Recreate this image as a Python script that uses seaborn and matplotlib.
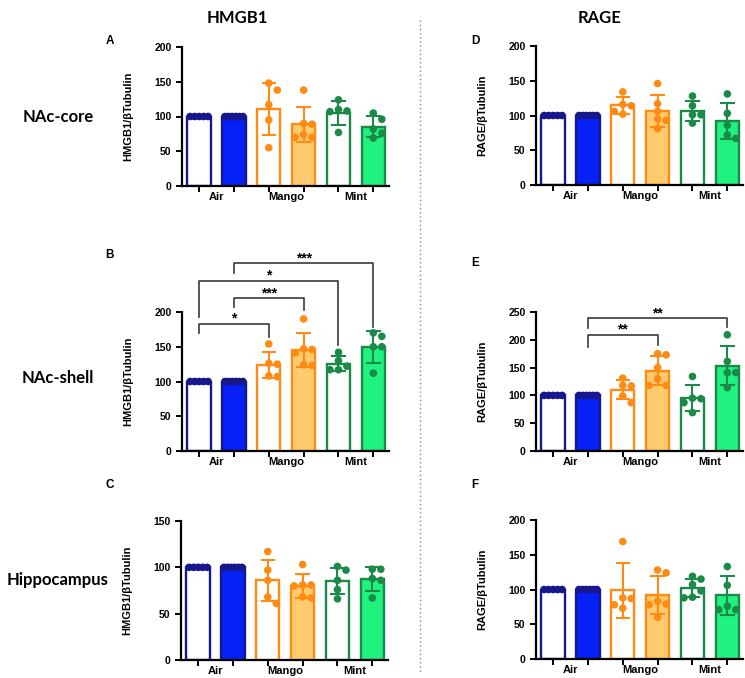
import numpy as np
import pandas as pd
import matplotlib
matplotlib.use("Agg")
import matplotlib.pyplot as plt
import seaborn as sns

# bar order: open/filled pairs for each exposure group
conds = ["Air", "Air (filled)", "Mango", "Mango (filled)", "Mint", "Mint (filled)"]
groups = ["Air", "Mango", "Mint"]
fills = ["white", "#0521f5", "white", "#ffcb6e", "white", "#1ff27f"]
edges = ["#17178c", "#17178c", "#ff8a14", "#ff8a14", "#1b8a48", "#1b8a48"]

# values (% of Air), one list per bar
hmgb1_core = [[100] * 5, [100] * 6,
              [148, 138, 117, 95, 55], [138, 90, 89, 74, 70, 70],
              [124, 110, 108, 107, 77], [105, 96, 82, 76, 69]]
hmgb1_shell = [[100] * 5, [100] * 6,
               [154, 126, 125, 108, 107], [190, 147, 146, 141, 124, 123],
               [142, 130, 122, 117, 117], [170, 165, 150, 150, 112]]
hmgb1_hippo = [[100] * 5, [100] * 6,
               [117, 97, 86, 68, 61], [103, 81, 81, 80, 68, 67],
               [101, 97, 86, 76, 66], [98, 98, 88, 86, 67]]
rage_core = [[100] * 5, [100] * 6,
             [134, 116, 114, 106, 102], [146, 117, 106, 95, 93, 81],
             [128, 114, 101, 101, 89], [131, 103, 86, 72, 67]]
rage_shell = [[100] * 5, [100] * 6,
              [131, 118, 117, 99, 87], [175, 173, 150, 130, 118, 118],
              [134, 95, 94, 87, 69], [209, 161, 141, 141, 114]]
rage_hippo = [[100] * 5, [100] * 6,
              [169, 88, 87, 78, 73], [128, 124, 83, 79, 78, 60],
              [119, 115, 107, 98, 89, 88], [133, 106, 76, 71, 71]]

# significance brackets: (bar1, bar2, line height, left leg end, right leg end, label)
shell_hmgb1_sig = [(0, 2, 183, 170, 164, "*"),
                   (1, 3, 220, 207, 203, "***"),
                   (0, 4, 245, 193, 152, "*"),
                   (1, 5, 270, 256, 178, "***")]
shell_rage_sig = [(1, 3, 209, 187, 190, "**"),
                  (1, 5, 239, 221, 223, "**")]

W, H = 745, 678
fig = plt.figure(figsize=(W / 100, H / 100), dpi=100)
AX_FONT = "Liberation Sans"
TITLE_FONT = "Lato"
AX_W, AX_H = 207, 139
XLIM = (-0.49, 5.45)


def px_rect(left, bottom, width, height):
    return [left / W, 1 - bottom / H, width / W, height / H]


def scatter_offsets(vals, ymax, step=8.5, min_dist=7.0, max_half=9.0):
    # prism-like spread: dots that would overlap are pushed sideways,
    # then the whole column is squeezed to stay inside the bar
    xscale = AX_W / (XLIM[1] - XLIM[0])
    yscale = AX_H / ymax
    placed = []
    offs = np.zeros(len(vals))
    for i in np.argsort(-vals, kind="stable"):
        y = vals[i] * yscale
        for k in [0, 1, -1, 2, -2, 3, -3, 4, -4]:
            x = k * step
            if all(np.hypot(x - px, y - py) >= min_dist for px, py in placed):
                break
        placed.append((x, y))
        offs[i] = x
    if np.ptp(offs) > 0 and np.all(vals == vals[0]):
        offs = offs - (offs.max() + offs.min()) / 2
    widest = np.abs(offs).max()
    if widest > max_half:
        offs = offs * max_half / widest
    return offs / xscale


def draw_panel(rect, values, ymax, ystep, ylabel, brackets=()):
    ax = fig.add_axes(rect)
    df = pd.DataFrame({
        "cond": np.repeat(conds, [len(v) for v in values]),
        "val": np.concatenate(values),
    })
    df["pos"] = np.concatenate([i + scatter_offsets(np.array(v, float), ymax)
                                for i, v in enumerate(values)])
    sns.barplot(data=df, x="cond", y="val", hue="cond", order=conds, hue_order=conds,
                palette=fills, saturation=1, errorbar="sd", capsize=0.36, width=0.67,
                linewidth=1.7, err_kws={"linewidth": 1.5}, legend=False, ax=ax)
    for patch in ax.patches:
        i = int(round(patch.get_x() + patch.get_width() / 2))
        patch.set_edgecolor(edges[i])
    for line in ax.lines:
        i = int(round(np.nanmean(line.get_xdata())))
        line.set_color(edges[i])
        line.set_zorder(4)
    sns.scatterplot(data=df, x="pos", y="val", hue="cond", hue_order=conds,
                    palette=edges, s=30, linewidth=0, legend=False, ax=ax, zorder=3)

    ax.set_xlim(*XLIM)
    ax.set_ylim(0, ymax)
    ax.set_yticks(np.arange(0, ymax + 1, ystep))
    ax.set_xticks(range(6))
    ax.set_xticklabels([])
    ax.set_xticks([0.5, 2.5, 4.5], minor=True)
    ax.set_xticklabels(groups, minor=True)
    ax.tick_params(axis="x", which="minor", length=0, pad=4)
    ax.tick_params(which="major", length=4, width=1.4, color="black")
    for lab in ax.get_yticklabels() + ax.get_xticklabels(minor=True):
        lab.set_fontfamily(AX_FONT)
        lab.set_fontweight("bold")
    for lab in ax.get_yticklabels():
        lab.set_fontsize(7.5)
    for lab in ax.get_xticklabels(minor=True):
        lab.set_fontsize(8)
    ax.set_xlabel("")
    ax.set_ylabel(ylabel, fontsize=8, fontweight="bold", fontfamily=AX_FONT)
    ax.yaxis.set_label_coords(-0.235, 0.5)
    sns.despine(ax=ax)
    for side in ["left", "bottom"]:
        ax.spines[side].set_linewidth(1.6)
        ax.spines[side].set_color("black")

    for x1, x2, y, yl, yr, label in brackets:
        ax.plot([x1, x1, x2, x2], [yl, y, y, yr], color="#3a3a3a", lw=1.2,
                clip_on=False, zorder=5)
        ax.text((x1 + x2) / 2, y + ymax * 0.035, label, ha="center", va="center",
                fontsize=10, fontweight="bold", fontfamily=AX_FONT, clip_on=False)
    return ax


draw_panel(px_rect(182, 186, AX_W, AX_H), hmgb1_core, 200, 50, "HMGB1/βTubulin")
draw_panel(px_rect(182, 451, AX_W, AX_H), hmgb1_shell, 200, 50, "HMGB1/βTubulin",
           shell_hmgb1_sig)
draw_panel(px_rect(181, 660, AX_W, AX_H), hmgb1_hippo, 150, 50, "HMGB1/βTubulin")
draw_panel(px_rect(536, 185, AX_W, AX_H), rage_core, 200, 50, "RAGE/βTubulin")
draw_panel(px_rect(536, 451, AX_W, AX_H), rage_shell, 250, 50, "RAGE/βTubulin",
           shell_rage_sig)
draw_panel(px_rect(536, 659, AX_W, AX_H), rage_hippo, 200, 50, "RAGE/βTubulin")

# column titles, row labels and panel letters
for x, y, s in [(237, 18, "HMGB1"), (600, 18, "RAGE")]:
    fig.text(x / W, 1 - y / H, s, ha="center", va="center", fontsize=12,
             fontweight="bold", fontfamily=TITLE_FONT)
for y, s in [(117, "NAc-core"), (378, "NAc-shell"), (580, "Hippocampus")]:
    fig.text(58 / W, 1 - y / H, s, ha="center", va="center", fontsize=12,
             fontweight="bold", fontfamily=TITLE_FONT)
for x, y, s in [(110, 41, "A"), (110, 255, "B"), (110, 485, "C"),
                (475, 41, "D"), (475, 263, "E"), (475, 485, "F")]:
    fig.text(x / W, 1 - y / H, s, ha="center", va="center", fontsize=8.5,
             fontweight="bold", fontfamily=AX_FONT)

fig.add_artist(plt.Line2D([420 / W, 420 / W], [1 - 20 / H, 1 - 672 / H],
                          color="#888888", lw=1, linestyle=(0, (1, 2))))

fig.savefig("out.png", dpi=100)
